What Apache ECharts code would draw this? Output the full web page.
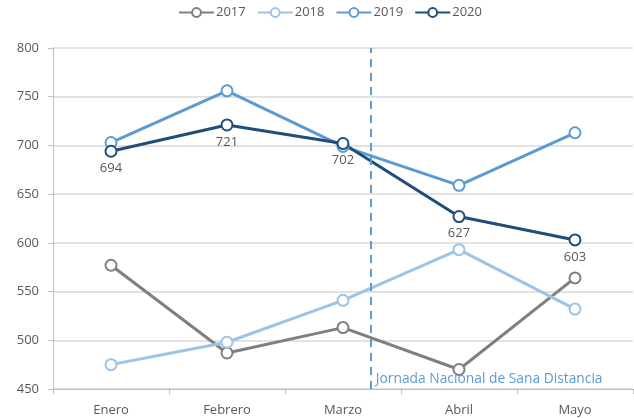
<!DOCTYPE html>
<html><head><meta charset="utf-8">
<script src="https://cdn.jsdelivr.net/npm/echarts@6/dist/echarts.min.js"></script>
<style>html,body{margin:0;padding:0;background:#fff}#c{width:634px;height:418px}</style>
</head><body><div id="c"></div>
<script>
var categories = ['Enero', 'Febrero', 'Marzo', 'Abril', 'Mayo'];
var s2017 = [577, 487, 513, 470, 564];
var s2018 = [475, 498, 541, 593, 532];
var s2019 = [703, 756, 699, 659, 713];
var s2020 = [694, 721, 702, 627, 603];
var seriesNames = ['2017', '2018', '2019', '2020'];
var seriesColors = ['#7f7f7f', '#9dc3e6', '#5b9bd5', '#1f4e79'];
var eventPosition = 2.24;
var eventText = 'Jornada Nacional de Sana Distancia';

var font = 'Open Sans';
var chart = echarts.init(document.getElementById('c'));
function mk(name, data, color, labels) {
  return {
    name: name, type: 'line', data: data, xAxisIndex: 0, yAxisIndex: 0,
    symbol: 'emptyCircle', symbolSize: 11, showAllSymbol: true,
    lineStyle: {color: color, width: 3},
    itemStyle: {color: color, borderWidth: 1.8},
    label: {show: labels, position: 'bottom', distance: 4, color: '#595959', fontSize: 13, fontFamily: font},
    emphasis: {disabled: true},
    z: 3
  };
}
chart.setOption({
  animation: false,
  textStyle: {fontFamily: font},
  legend: {
    top: 6, left: 178, padding: 0, itemWidth: 35, itemHeight: 11, itemGap: 11,
    data: seriesNames,
    textStyle: {color: '#595959', fontSize: 13, fontFamily: font, padding: [0, 0, 0, -3]}
  },
  grid: {left: 53, right: 1, top: 48, bottom: 29},
  xAxis: [{
    type: 'category', data: categories, boundaryGap: true,
    axisLine: {lineStyle: {color: '#bfbfbf', width: 1}},
    axisTick: {show: true, length: 5, lineStyle: {color: '#bfbfbf'}},
    axisLabel: {color: '#595959', fontSize: 13, margin: 15, fontFamily: font}
  }, {
    type: 'value', min: -0.5, max: 4.5, show: false
  }],
  yAxis: {
    type: 'value', min: 450, max: 800, interval: 50,
    axisLine: {show: true, onZero: false, lineStyle: {color: '#bfbfbf'}},
    axisTick: {show: true, length: 5, lineStyle: {color: '#bfbfbf'}},
    axisLabel: {color: '#595959', fontSize: 13, margin: 14, fontFamily: font},
    splitLine: {lineStyle: {color: '#d9d9d9', width: 1.5}}
  },
  series: [
    mk(seriesNames[0], s2017, seriesColors[0], false),
    mk(seriesNames[1], s2018, seriesColors[1], false),
    mk(seriesNames[2], s2019, seriesColors[2], false),
    mk(seriesNames[3], s2020, seriesColors[3], true),
    {
      type: 'scatter', xAxisIndex: 1, yAxisIndex: 0, data: [[eventPosition, 450]],
      symbolSize: 0, silent: true, z: 2,
      markLine: {
        silent: true, symbol: ['none', 'none'],
        lineStyle: {color: '#5b9bd5', width: 2, type: [8, 6]},
        label: {show: false},
        data: [{xAxis: eventPosition}]
      },
      markPoint: {
        silent: true, symbol: 'rect', symbolSize: 0,
        label: {show: true, position: 'right', distance: 5, offset: [0, -10], formatter: eventText,
          color: '#5b9bd5', fontSize: 13.8, fontFamily: font},
        data: [{coord: [eventPosition, 450]}]
      }
    }
  ]
});
</script></body></html>
